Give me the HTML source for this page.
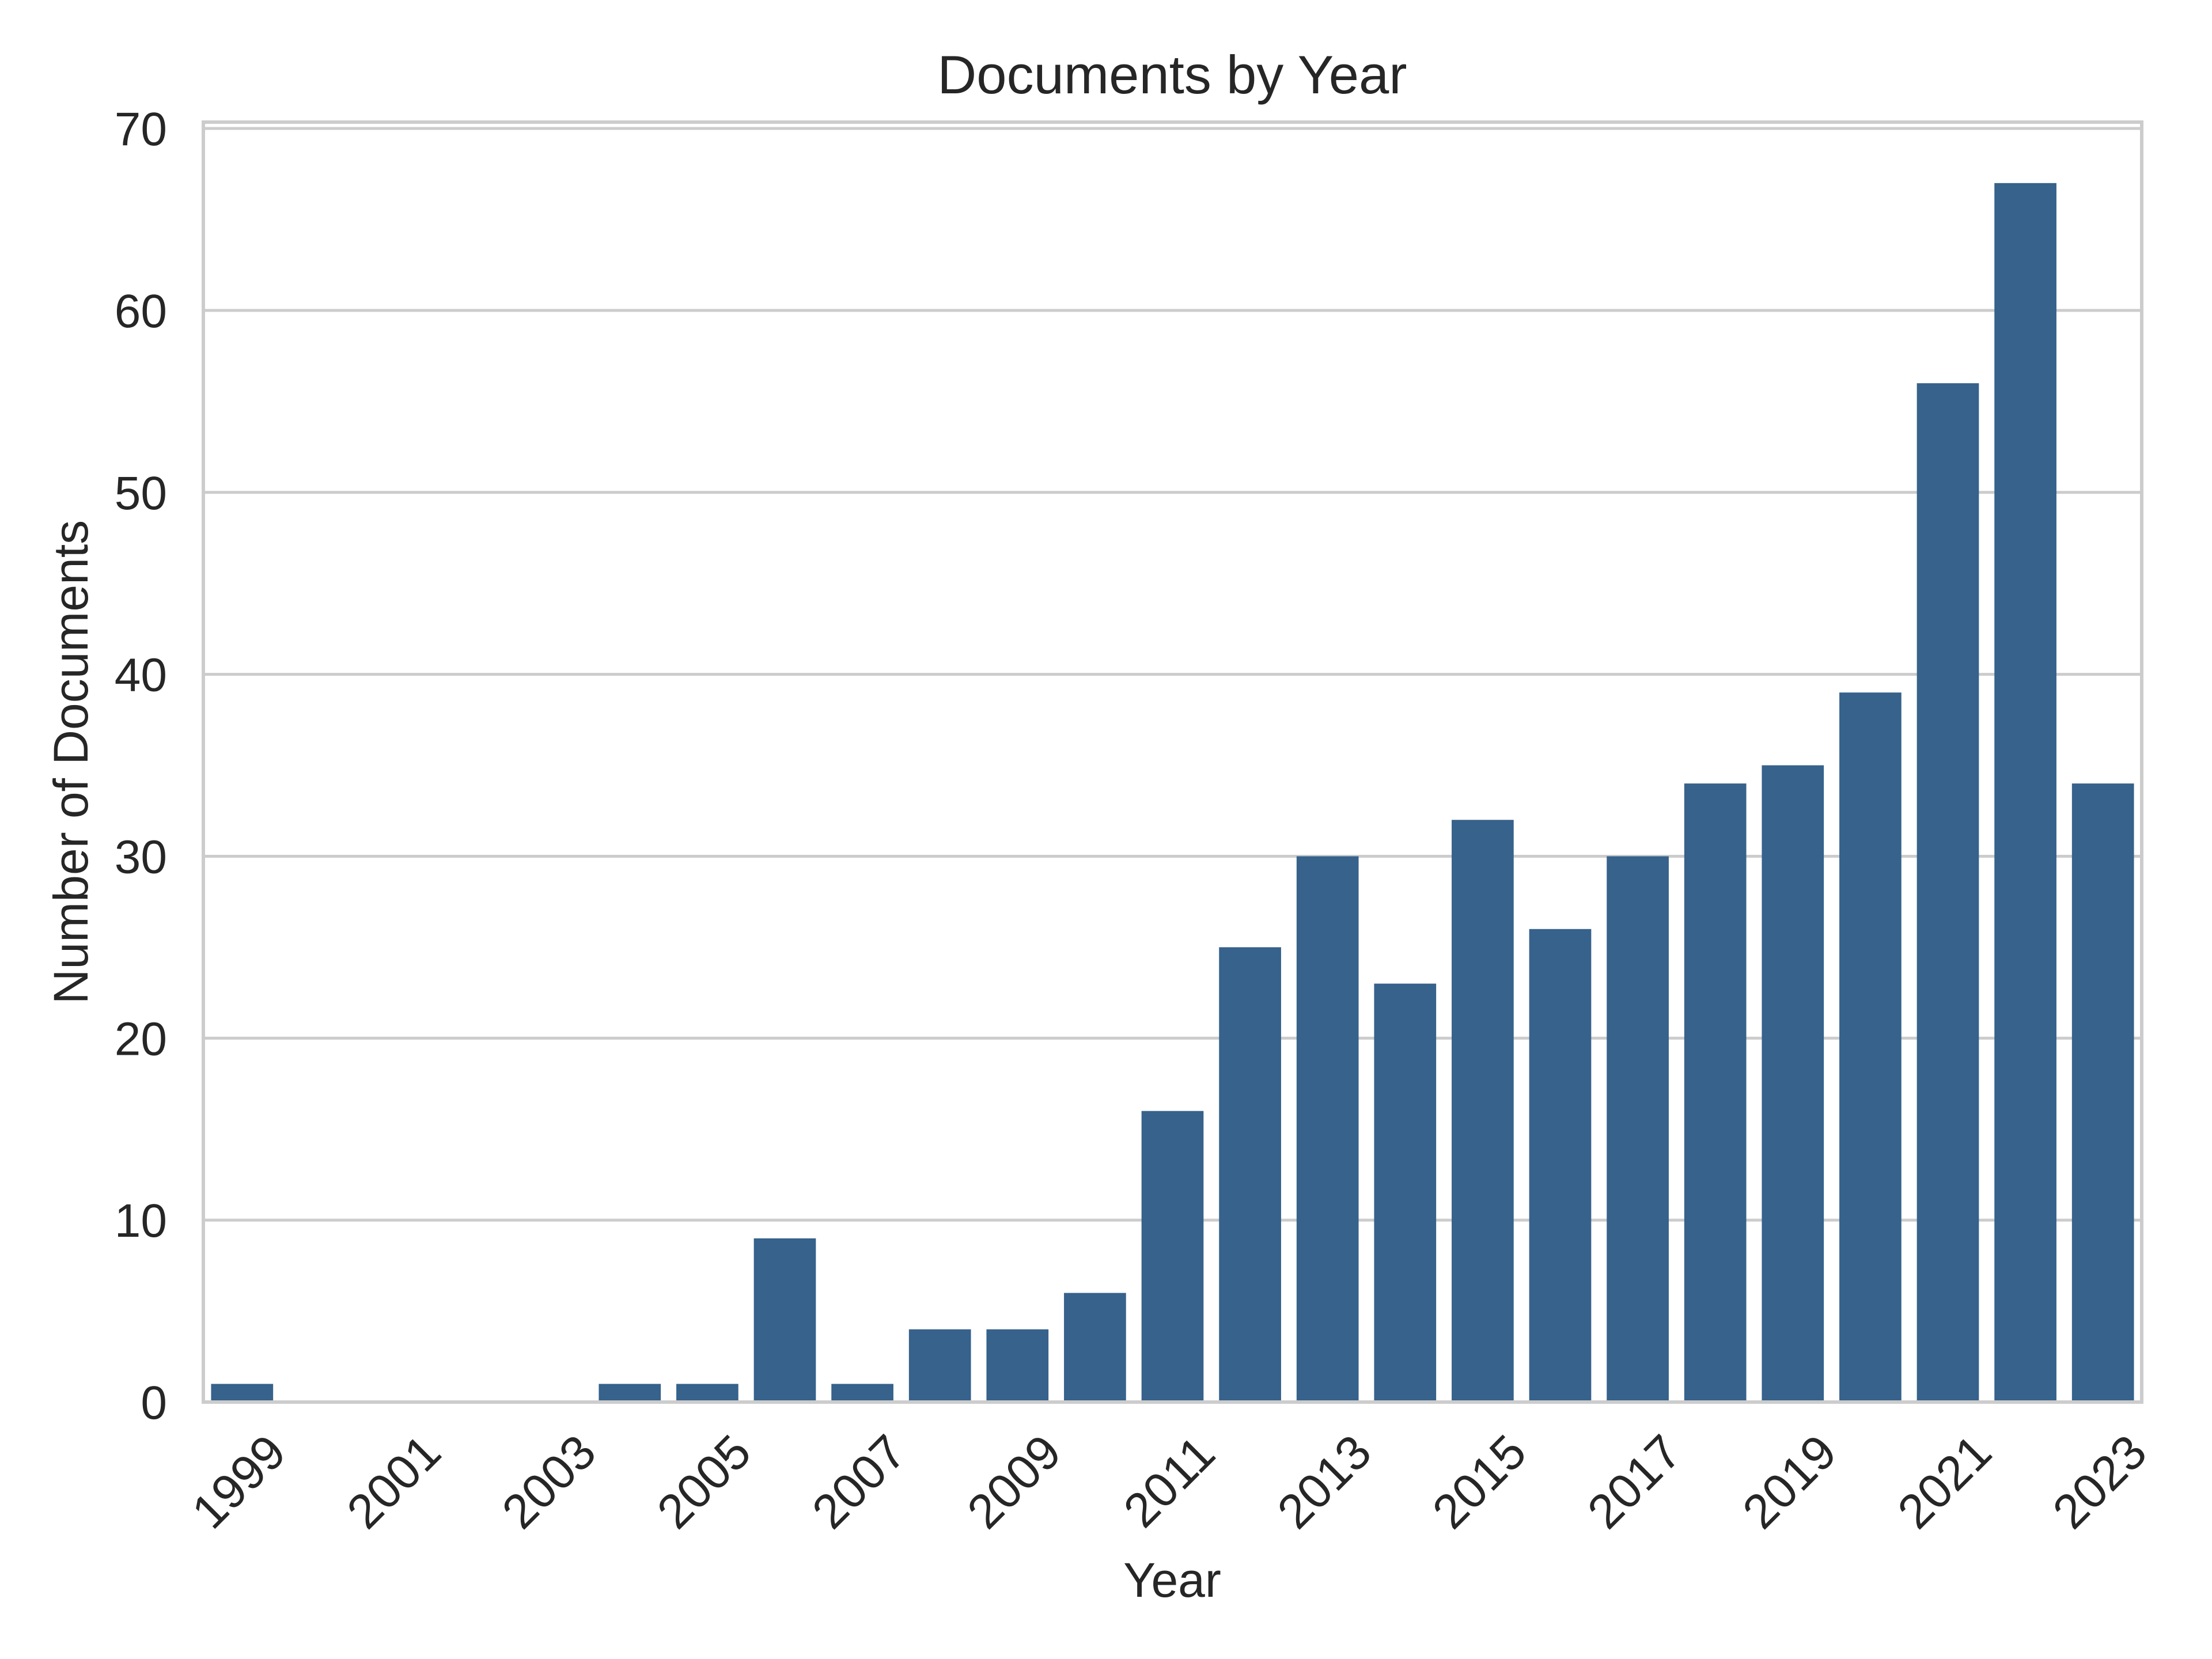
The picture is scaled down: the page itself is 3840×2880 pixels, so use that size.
<!DOCTYPE html>
<html><head><meta charset="utf-8"><style>
html,body{margin:0;padding:0;background:#fff;}
svg{display:block;font-family:"Liberation Sans","DejaVu Sans",sans-serif;}
</style></head><body>
<svg id="chart" width="3840" height="2880" viewBox="0 0 3840 2880" xmlns="http://www.w3.org/2000/svg">
<rect width="3840" height="2880" fill="#fff"/>
<g id="grid"></g><g id="bars"></g><g id="axes"></g>
<text x="2035" y="162" font-size="94" fill="#262626" text-anchor="middle">Documents by Year</text>
<text x="2035" y="2772" font-size="84" fill="#262626" text-anchor="middle">Year</text>
<text x="0" y="0" font-size="84" fill="#262626" text-anchor="middle" transform="translate(152,1323) rotate(-90)">Number of Documents</text>
</svg>
<script>
const categories = [1999,2000,2001,2002,2003,2004,2005,2006,2007,2008,2009,2010,2011,2012,2013,2014,2015,2016,2017,2018,2019,2020,2021,2022,2023];
const values = [1,0,0,0,0,1,1,9,1,4,4,6,16,25,30,23,32,26,30,34,35,39,56,67,34];
const yTicks = [0,10,20,30,40,50,60,70];
const NS='http://www.w3.org/2000/svg';
const L=353,R=3718,T=212,B=2434;
const yMax=Math.max(...values)*1.05;
const xs=i=>L+(i+0.5)*(R-L)/categories.length;
const ys=v=>B-v/yMax*(B-T);
const bw=0.8*(R-L)/categories.length;
function mk(tag,attrs,parent){const e=document.createElementNS(NS,tag);for(const k in attrs)e.setAttribute(k,attrs[k]);parent.appendChild(e);return e;}
const grid=document.getElementById('grid'),bars=document.getElementById('bars'),axes=document.getElementById('axes');
yTicks.forEach(t=>{
  const g=mk('line',{x1:L,x2:R,y1:ys(t),y2:ys(t),stroke:'#cccccc','stroke-width':5},grid);
  
  
  const tx=mk('text',{x:290,y:ys(t)+29,'font-size':82,fill:'#262626','text-anchor':'end'},axes);
  tx.textContent=t;
  
  
});
values.forEach((v,i)=>{
  const r=mk('rect',{x:xs(i)-bw/2,y:ys(v),width:bw,height:B-ys(v),fill:'#36628b'},bars);
  
  
});
categories.forEach((c,i)=>{
  if(i%2!==0)return;
  const cx=xs(i)-6,cy=2572;
  const tx=mk('text',{x:cx,y:cy,'font-size':84,fill:'#262626','text-anchor':'middle','dominant-baseline':'central',transform:`rotate(-45 ${cx} ${cy})`},axes);
  tx.textContent=c;
  
  
});
const sp=mk('rect',{x:L,y:T,width:R-L,height:B-T,fill:'none',stroke:'#cccccc','stroke-width':6},axes);


</script>
</body></html>
